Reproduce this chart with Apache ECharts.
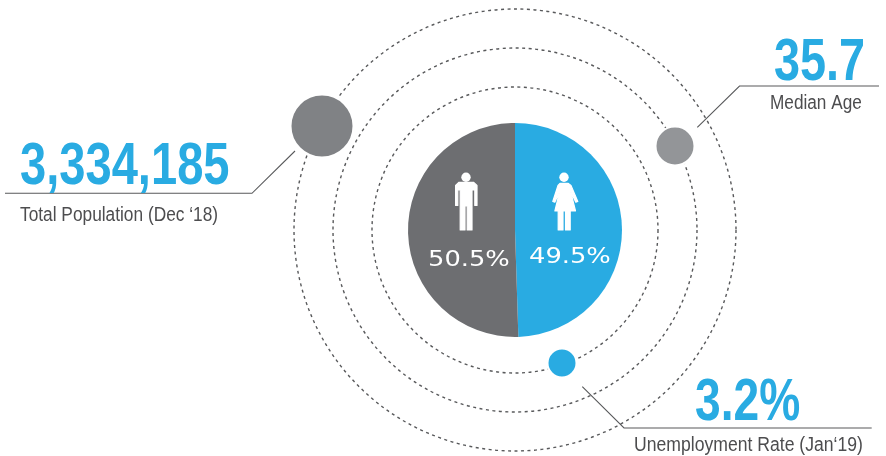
<!DOCTYPE html>
<html>
<head>
<meta charset="utf-8">
<style>html,body{margin:0;padding:0;background:#fff}#main{width:886px;height:456px}</style>
<script src="https://cdn.jsdelivr.net/npm/echarts@6/dist/echarts.min.js"></script>
</head>
<body>
<div id="main"></div>
<script>
// Gender split shown in the central pie
const genderNames = ['Female', 'Male'];
const genderShares = [49.5, 50.5];
const genderColors = ['#29abe2', '#6d6e71'];

// Headline figures and their captions
const statValues = ['3,334,185', '35.7', '3.2%'];
const statCaptions = ['Total Population (Dec \u201818)', 'Median Age', 'Unemployment Rate (Jan\u201819)'];

// Orbit radii around the pie
const orbitRadii = [143, 182, 221];

const cx = 515, cy = 230, pieRadius = 107;
const BLUE = '#29abe2';
const sans = '"Liberation Sans",sans-serif';

function text(str, x, y, font, fill, sx) {
  return {
    type: 'text', x: x, y: y, scaleX: sx || 1, z: 20,
    style: { text: str, font: font, fill: fill, align: 'left', verticalAlign: 'middle' }
  };
}
function polyline(points) {
  return {
    type: 'polyline', z: 8,
    shape: { points: points },
    style: { stroke: '#58595b', lineWidth: 1.1, fill: null }
  };
}
function bubble(x, y, r, color) {
  return {
    type: 'circle', z: 10,
    shape: { cx: x, cy: y, r: r },
    style: { fill: color, stroke: '#fff', lineWidth: 2 }
  };
}
function figure(points) {
  return {
    type: 'polygon', z: 12,
    shape: { points: points },
    style: { fill: '#fff', stroke: '#fff', lineWidth: 1.2, lineJoin: 'round' }
  };
}

// Pictogram outlines for the two slices
const manOutline = [
  [459, 182.3], [473.5, 182.3], [477, 185.5], [477, 205.4], [474.8, 205.4], [474.8, 190],
  [472, 190], [472, 230], [467.2, 230], [467.2, 206], [465, 206], [465, 230],
  [460.2, 230], [460.2, 190], [457.8, 190], [457.8, 205.4], [455.6, 205.4], [455.6, 185.5]
];
const womanOutline = [
  [560, 183.3], [568, 183.3], [571, 185.5], [577.8, 201.5], [575.8, 202.2], [570.5, 191],
  [575.5, 211], [570.2, 211], [570.2, 230], [565.5, 230], [565.5, 211], [563, 211],
  [563, 230], [558.2, 230], [558.2, 211], [554.9, 211], [559.8, 191], [554.8, 202.2],
  [552.8, 201.5], [558, 185.5]
];

const elements = [];
orbitRadii.forEach(function (r) {
  elements.push({
    type: 'circle', z: 1,
    shape: { cx: cx, cy: cy, r: r },
    style: { fill: null, stroke: '#58595b', lineWidth: 1.4, lineDash: [3, 3.5] }
  });
});
elements.push(
  bubble(322, 126, 31.5, '#808285'),
  bubble(675, 146, 19.5, '#939598'),
  bubble(562, 363, 14.5, BLUE),
  polyline([[5, 193.3], [252, 193.3], [295, 151]]),
  polyline([[697.3, 127.3], [739.5, 86], [879, 86]]),
  polyline([[582.3, 386.7], [624, 428], [871.7, 428]]),
  { type: 'circle', z: 12, shape: { cx: 466, cy: 177.3, r: 4.7 }, style: { fill: '#fff' } },
  figure(manOutline),
  { type: 'circle', z: 12, shape: { cx: 564, cy: 177.3, r: 4.7 }, style: { fill: '#fff' } },
  figure(womanOutline),
  text(statValues[0], 20, 167.5, 'bold 60px ' + sans, BLUE, 0.785),
  text(statCaptions[0], 20, 215, '20px ' + sans, '#4d4d4f', 0.865),
  text(statValues[1], 774, 63.5, 'bold 60px ' + sans, BLUE, 0.78),
  text(statCaptions[1], 770, 103, '20px ' + sans, '#4d4d4f', 0.86),
  text(statValues[2], 695, 403, 'bold 60px ' + sans, BLUE, 0.77),
  text(statCaptions[2], 634, 445, '20px ' + sans, '#4d4d4f', 0.88),
  text(genderShares[1].toFixed(1) + '%', 428, 260, '22px "DejaVu Sans",sans-serif', '#fff', 1.17),
  text(genderShares[0].toFixed(1) + '%', 529, 257, '22px "DejaVu Sans",sans-serif', '#fff', 1.17)
);

const chart = echarts.init(document.getElementById('main'), null, { renderer: 'canvas' });
chart.setOption({
  animation: false,
  backgroundColor: '#fff',
  series: [{
    type: 'pie',
    center: [cx, cy],
    radius: [0, pieRadius],
    startAngle: 90,
    clockwise: true,
    silent: true,
    label: { show: false },
    labelLine: { show: false },
    data: genderNames.map(function (n, i) {
      return { name: n, value: genderShares[i], itemStyle: { color: genderColors[i] } };
    })
  }],
  graphic: { elements: elements }
});
</script>
</body>
</html>
